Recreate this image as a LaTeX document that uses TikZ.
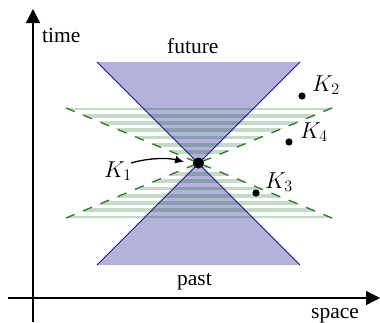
\RequirePackage{fix-cm}
\documentclass[tikz,border=0pt]{standalone}
\usepackage{fontspec}
\setmainfont{Liberation Serif}
\usetikzlibrary{arrows.meta}
\definecolor{conefill}{RGB}{178,178,218}
\definecolor{coneline}{RGB}{20,20,130}
\definecolor{stripegreen}{RGB}{0,85,10}
\definecolor{dashgreen}{RGB}{40,120,40}
\tikzset{
  axis/.style={line width=1.3pt,-{Triangle[length=14pt,width=14pt]}},
  conepart/.style={fill=conefill,draw=none},
  coneedge/.style={draw=coneline,line width=1pt},
  stripe/.style={draw=stripegreen,draw opacity=0.22,line width=3.6pt},
  wedgeedge/.style={draw=dashgreen,line width=1.3pt,dash pattern=on 9.4pt off 9.3pt},
  bigdot/.style={circle,fill=black,inner sep=0pt,minimum size=11pt},
  smalldot/.style={circle,fill=black,inner sep=0pt,minimum size=7.2pt},
  lbl/.style={anchor=base west,inner sep=0pt,font=\fontsize{21.5}{26}\selectfont},
  mlbl/.style={anchor=base west,inner sep=0pt,font=\fontsize{23}{28}\selectfont},
  pointer/.style={line width=1.3pt,-{Latex[length=9pt,width=8pt]}}
}
\begin{document}
\begin{tikzpicture}[x=1pt,y=-1pt]
\useasboundingbox (0,0) rectangle (380,322);
% corners
\coordinate (c) at (198.5,163);
\coordinate (tl) at (97,62);
\coordinate (tr) at (300,62);
\coordinate (bl) at (97,265);
\coordinate (br) at (300,265);
\coordinate (wtl) at (66,108);
\coordinate (wtr) at (332,108);
\coordinate (wbl) at (66,218);
\coordinate (wbr) at (332,218);
% cone fill
\fill[conepart] (tl) -- (tr) -- (c) -- cycle;
\fill[conepart] (bl) -- (br) -- (c) -- cycle;
% stripes
\begin{scope}
\clip (c) -- (wtl) -- (wtr) -- cycle (c) -- (wbl) -- (wbr) -- cycle;
\foreach \i in {-7.5,-6.5,...,7.5}
  \draw[stripe] (60,163+\i*7.27) -- (340,163+\i*7.27);
\end{scope}
% cone edges
\draw[coneedge] (tl) -- (br);
\draw[coneedge] (tr) -- (bl);
% wedge edges
\draw[wedgeedge] (wtl) -- (c);
\draw[wedgeedge] (wbl) -- (c);
\draw[wedgeedge] (wtr) -- (c);
\draw[wedgeedge] (wbr) -- (c);
% axes
\coordinate (yb) at (33,322);
\coordinate (yt) at (33,9);
\coordinate (xl) at (8,298);
\coordinate (xr) at (380,298);
\draw[axis] (yb) -- (yt);
\draw[axis] (xl) -- (xr);
% points
\node[bigdot] (k1) at (c) {};
\node[smalldot] (k2) at (302,96) {};
\node[smalldot] (k4) at (289,142) {};
\node[smalldot] (k3) at (256,193) {};
% labels
\node[mlbl] (t1) at (104,177) {$K_1$};
\node[mlbl] (t2) at (312,91) {$K_2$};
\node[mlbl] (t4) at (300,138) {$K_4$};
\node[mlbl] (t3) at (265,188) {$K_3$};
\node[lbl] (time) at (42,42.5) {time};
\node[lbl] (future) at (167,53) {future};
\node[lbl] (past) at (177,285) {past};
\node[lbl] (space) at (311,318) {space};
% pointer
\coordinate (ps) at (131,163);
\coordinate (pe) at (184,162);
\draw[pointer] (ps) .. controls (148,158) and (168,157.5) .. (pe);
\end{tikzpicture}
\end{document}
